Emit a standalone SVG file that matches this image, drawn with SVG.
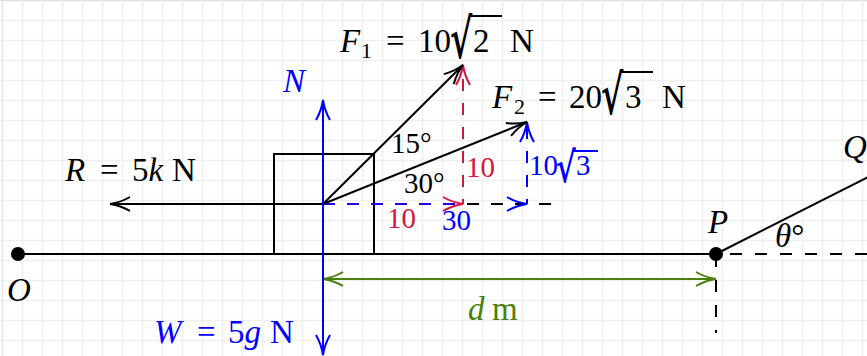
<svg xmlns="http://www.w3.org/2000/svg" width="867" height="356" viewBox="0 0 867 356">
<style>
.grid line{stroke:#efefef;stroke-width:1.6}
.t{font-family:"Liberation Serif","Times New Roman",serif;font-size:33px;fill:#000}
.s{font-size:29px}
.i{font-style:italic}
.sub{font-size:22px}
.rad{font-family:"DejaVu Serif",serif;font-size:34px;font-weight:bold}
.k{stroke:#000;stroke-width:2;fill:none}
.b{stroke:#0000ff;stroke-width:2;fill:none}
.r{stroke:#d3173c;stroke-width:2;fill:none}
.g{stroke:#4b7f0e;stroke-width:2;fill:none}
.d{stroke-dasharray:12 12}
.red{fill:#d3173c}
.blue{fill:#0000ff}
.green{fill:#4b7f0e}
</style>
<defs>
<marker id="ak" markerUnits="userSpaceOnUse" markerWidth="30" markerHeight="20" viewBox="-22 -10 30 20" refX="0" refY="0" orient="auto-start-reverse"><path d="M-20,-7 C-13,-3 -4,-0.6 0,0 C-4,0.6 -13,3 -20,7" fill="none" stroke="#000" stroke-width="2"/></marker>
<marker id="ab" markerUnits="userSpaceOnUse" markerWidth="30" markerHeight="20" viewBox="-22 -10 30 20" refX="0" refY="0" orient="auto-start-reverse"><path d="M-20,-7 C-13,-3 -4,-0.6 0,0 C-4,0.6 -13,3 -20,7" fill="none" stroke="#0000ff" stroke-width="2"/></marker>
<marker id="ar" markerUnits="userSpaceOnUse" markerWidth="30" markerHeight="20" viewBox="-22 -10 30 20" refX="0" refY="0" orient="auto-start-reverse"><path d="M-20,-7 C-13,-3 -4,-0.6 0,0 C-4,0.6 -13,3 -20,7" fill="none" stroke="#d3173c" stroke-width="2"/></marker>
<marker id="ag" markerUnits="userSpaceOnUse" markerWidth="30" markerHeight="20" viewBox="-22 -10 30 20" refX="0" refY="0" orient="auto-start-reverse"><path d="M-20,-7 C-13,-3 -4,-0.6 0,0 C-4,0.6 -13,3 -20,7" fill="none" stroke="#4b7f0e" stroke-width="2"/></marker>
</defs>
<rect width="867" height="356" fill="#fff"/>
<g class="grid">
<line x1="0" y1="0.5" x2="867" y2="0.5" style="stroke:#dcdcdc"/>
<line x1="0" y1="20.5" x2="867" y2="20.5"/><line x1="0" y1="40.5" x2="867" y2="40.5"/><line x1="0" y1="60.5" x2="867" y2="60.5"/><line x1="0" y1="80.5" x2="867" y2="80.5"/><line x1="0" y1="100.5" x2="867" y2="100.5"/><line x1="0" y1="120.5" x2="867" y2="120.5"/><line x1="0" y1="140.5" x2="867" y2="140.5"/><line x1="0" y1="160.5" x2="867" y2="160.5"/><line x1="0" y1="180.5" x2="867" y2="180.5"/><line x1="0" y1="200.5" x2="867" y2="200.5"/><line x1="0" y1="220.5" x2="867" y2="220.5"/><line x1="0" y1="240.5" x2="867" y2="240.5"/><line x1="0" y1="260.5" x2="867" y2="260.5"/><line x1="0" y1="280.5" x2="867" y2="280.5"/><line x1="0" y1="300.5" x2="867" y2="300.5"/><line x1="0" y1="320.5" x2="867" y2="320.5"/><line x1="0" y1="340.5" x2="867" y2="340.5"/>
<line x1="2.5" y1="0" x2="2.5" y2="356" style="stroke:#e6e6e6"/>
<line x1="22.5" y1="0" x2="22.5" y2="356"/><line x1="42.5" y1="0" x2="42.5" y2="356"/><line x1="62.5" y1="0" x2="62.5" y2="356"/><line x1="82.5" y1="0" x2="82.5" y2="356"/><line x1="102.5" y1="0" x2="102.5" y2="356"/><line x1="122.5" y1="0" x2="122.5" y2="356"/><line x1="142.5" y1="0" x2="142.5" y2="356"/><line x1="162.5" y1="0" x2="162.5" y2="356"/><line x1="182.5" y1="0" x2="182.5" y2="356"/><line x1="202.5" y1="0" x2="202.5" y2="356"/><line x1="222.5" y1="0" x2="222.5" y2="356"/><line x1="242.5" y1="0" x2="242.5" y2="356"/><line x1="262.5" y1="0" x2="262.5" y2="356"/><line x1="282.5" y1="0" x2="282.5" y2="356"/><line x1="302.5" y1="0" x2="302.5" y2="356"/><line x1="322.5" y1="0" x2="322.5" y2="356"/><line x1="342.5" y1="0" x2="342.5" y2="356"/><line x1="362.5" y1="0" x2="362.5" y2="356"/><line x1="382.5" y1="0" x2="382.5" y2="356"/><line x1="402.5" y1="0" x2="402.5" y2="356"/><line x1="422.5" y1="0" x2="422.5" y2="356"/><line x1="442.5" y1="0" x2="442.5" y2="356"/><line x1="462.5" y1="0" x2="462.5" y2="356"/><line x1="482.5" y1="0" x2="482.5" y2="356"/><line x1="502.5" y1="0" x2="502.5" y2="356"/><line x1="522.5" y1="0" x2="522.5" y2="356"/><line x1="542.5" y1="0" x2="542.5" y2="356"/><line x1="562.5" y1="0" x2="562.5" y2="356"/><line x1="582.5" y1="0" x2="582.5" y2="356"/><line x1="602.5" y1="0" x2="602.5" y2="356"/><line x1="622.5" y1="0" x2="622.5" y2="356"/><line x1="642.5" y1="0" x2="642.5" y2="356"/><line x1="662.5" y1="0" x2="662.5" y2="356"/><line x1="682.5" y1="0" x2="682.5" y2="356"/><line x1="702.5" y1="0" x2="702.5" y2="356"/><line x1="722.5" y1="0" x2="722.5" y2="356"/><line x1="742.5" y1="0" x2="742.5" y2="356"/><line x1="762.5" y1="0" x2="762.5" y2="356"/><line x1="782.5" y1="0" x2="782.5" y2="356"/><line x1="802.5" y1="0" x2="802.5" y2="356"/><line x1="822.5" y1="0" x2="822.5" y2="356"/><line x1="842.5" y1="0" x2="842.5" y2="356"/><line x1="862.5" y1="0" x2="862.5" y2="356"/>
</g>

<g id="ground">
<line class="k" x1="18" y1="254" x2="716" y2="254"/>
</g>
<g id="block">
<rect class="k" x="274" y="154" width="100" height="100"/>
</g>
<g id="pointO">
<circle cx="18" cy="254" r="7" fill="#000"/>
<text class="t i" x="7" y="301">O</text>
</g>
<g id="pointP">
<circle cx="716" cy="254" r="7" fill="#000"/>
<text class="t i" x="708" y="233">P</text>
</g>
<g id="pointQ">
<text class="t i" x="843" y="158">Q</text>
</g>

<g id="connectors">
<path class="k d" d="M323 204 H553"/>
<path class="r d" d="M323 204 H463" marker-end="url(#ar)"/>
<path class="b d" d="M323 204 H463" style="stroke-opacity:0.85"/>
<path class="b" d="M507 204 H527" style="stroke:none" marker-end="url(#ab)"/>
<path class="r d" d="M463 204 V65" marker-end="url(#ar)" style="stroke-dashoffset:7"/>
<path class="b d" d="M527 204 V122" marker-end="url(#ab)" style="stroke-dashoffset:7"/>
<path class="k" d="M323 204 L463 65" marker-end="url(#ak)"/>
<path class="k" d="M323 204 L527 122" marker-end="url(#ak)"/>
<path class="k" d="M323 204 H110" marker-end="url(#ak)"/>
<path class="k" d="M716 254 L880 171"/>
<path class="k" d="M730 254 H867" style="stroke-dasharray:12 13"/>
<path class="k" d="M716 255 V333" style="stroke-dasharray:12 13"/>
<path class="g" d="M323 279 H716" marker-start="url(#ag)" marker-end="url(#ag)"/>
<path class="b" d="M323 204 V100" marker-end="url(#ab)"/>
<path class="b" d="M323 204 V355" marker-end="url(#ab)"/>
</g>

<g id="label-F1">
<text class="t i" x="340" y="52">F</text>
<text class="t sub" x="361" y="58">1</text>
<text class="t" x="386" y="52">=</text>
<text class="t" x="418" y="52">10</text>
<text class="t rad" transform="translate(450,58) scale(1,1.6)">√</text>
<line class="k" x1="470" y1="16" x2="502" y2="16"/>
<text class="t" x="473" y="52">2</text>
<text class="t" x="510" y="52">N</text>
</g>
<g id="label-F2">
<text class="t i" x="492" y="108">F</text>
<text class="t sub" x="514" y="114">2</text>
<text class="t" x="538" y="108">=</text>
<text class="t" x="569" y="108">20</text>
<text class="t rad" transform="translate(601,114) scale(1,1.6)">√</text>
<line class="k" x1="621" y1="72" x2="653" y2="72"/>
<text class="t" x="625" y="108">3</text>
<text class="t" x="662" y="108">N</text>
</g>
<g id="label-R">
<text class="t i" x="65" y="181">R</text>
<text class="t" x="100" y="181">=</text>
<text class="t" x="132" y="181">5<tspan class="i">k</tspan></text>
<text class="t" x="172" y="181">N</text>
</g>
<g id="label-N">
<text class="t i blue" x="283" y="92">N</text>
</g>
<g id="label-W">
<text class="t i blue" x="154" y="343">W</text>
<text class="t blue" x="197" y="343">=</text>
<text class="t blue" x="228" y="343">5<tspan class="i">g</tspan></text>
<text class="t blue" x="270" y="343">N</text>
</g>
<g id="label-d">
<text class="t green i" x="468" y="320">d</text>
<text class="t green" x="492" y="320">m</text>
</g>
<g id="angles">
<text class="t s" x="391" y="153">15°</text>
<text class="t s" x="404" y="193">30°</text>
<text class="t i" x="775" y="247">θ<tspan style="font-style:normal">°</tspan></text>
</g>
<g id="components">
<text class="t s red" x="466" y="177">10</text>
<text class="t s red" x="387" y="228">10</text>
<text class="t s blue" x="442" y="230">30</text>
<text class="t s blue" x="529" y="175">10</text>
<text class="t blue rad" transform="translate(556,182) scale(1,1.4)" style="font-size:30px">√</text>
<line class="b" x1="573" y1="151" x2="598" y2="151"/>
<text class="t s blue" x="576" y="175">3</text>
</g>
</svg>
